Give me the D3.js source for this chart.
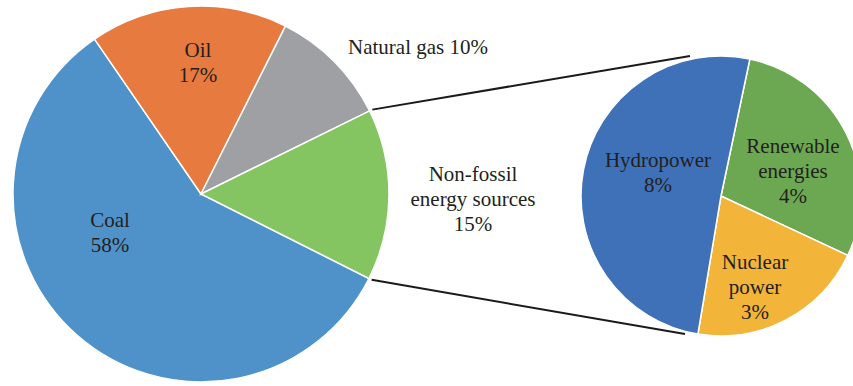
<!DOCTYPE html>
<html>
<head>
<meta charset="utf-8">
<script src="https://cdn.jsdelivr.net/npm/d3@7"></script>
<style>
  body { margin: 0; background: #fff; }
  text { font-family: "Liberation Serif", "Times New Roman", serif; font-size: 21px; fill: #231f20; }
</style>
</head>
<body>
<svg id="chart" width="853" height="386"></svg>
<script>
// main pie: share of primary energy (%)
const mainCats = ["Coal", "Oil", "Natural gas", "Non-fossil energy sources"];
const mainValues = [58, 17, 10.3, 14.7];
const mainLabels = ["58%", "17%", "10%", "15%"];
const mainColors = ["#4f92c9", "#e67a3f", "#9ea0a3", "#84c562"];

// sub pie: breakdown of non-fossil
const subCats = ["Renewable energies", "Nuclear power", "Hydropower"];
const subValues = [4.3, 3.1, 7.6];
const subLabels = ["4%", "3%", "8%"];
const subColors = ["#6ca851", "#f3b43a", "#3f71b8"];

const svg = d3.select("#chart");
const deg = Math.PI / 180;

// main pie geometry
const cx1 = 201, cy1 = 194, r1 = 188;
const start1 = 116.7 * deg;
const pie1 = d3.pie().sort(null).value(d => d)
  .startAngle(start1).endAngle(start1 + 2 * Math.PI);
const arcs1 = pie1(mainValues);
const arc1 = d3.arc().innerRadius(0).outerRadius(r1);

const g1 = svg.append("g").attr("transform", `translate(${cx1},${cy1})`);
g1.selectAll("path")
  .data(arcs1)
  .join("path")
  .attr("d", arc1)
  .attr("fill", (d, i) => mainColors[i])
  .attr("stroke", "#fff")
  .attr("stroke-width", 1.5);

// sub pie geometry
const cx2 = 721, cy2 = 196, r2 = 140;
const start2 = 11.9 * deg;
const pie2 = d3.pie().sort(null).value(d => d)
  .startAngle(start2).endAngle(start2 + 2 * Math.PI);
const arcs2 = pie2(subValues);
const arc2 = d3.arc().innerRadius(0).outerRadius(r2);

const g2 = svg.append("g").attr("transform", `translate(${cx2},${cy2})`);
g2.selectAll("path")
  .data(arcs2)
  .join("path")
  .attr("d", arc2)
  .attr("fill", (d, i) => subColors[i])
  .attr("stroke", "#fff")
  .attr("stroke-width", 1.5);

// connector lines from the non-fossil slice to the sub pie
const nf = arcs1[3];
const polar = (a, r) => [Math.sin(a) * r, -Math.cos(a) * r];
const pTop = polar(nf.startAngle, r1 + 3);
const pBot = polar(nf.endAngle, r1 + 3);
const connectors = [
  [[cx1 + pTop[0], cy1 + pTop[1]], [cx2 - 31, cy2 - r2]],
  [[cx1 + pBot[0], cy1 + pBot[1]], [cx2 - 36, cy2 + r2 - 2]]
];
svg.selectAll("line.conn")
  .data(connectors)
  .join("line")
  .attr("class", "conn")
  .attr("x1", d => d[0][0]).attr("y1", d => d[0][1])
  .attr("x2", d => d[1][0]).attr("y2", d => d[1][1])
  .attr("stroke", "#1a1a1a")
  .attr("stroke-width", 2);

// labels: [lines, x, first baseline]
const lh = 25;
const labels = [
  [["Coal", mainLabels[0]], 110, 227],
  [["Oil", mainLabels[1]], 198, 57],
  [["Natural gas " + mainLabels[2]], 418, 54],
  [["Non-fossil", "energy sources", mainLabels[3]], 473, 181],
  [["Renewable", "energies", subLabels[0]], 793, 153],
  [["Nuclear", "power", subLabels[1]], 755, 269],
  [["Hydropower", subLabels[2]], 658, 167]
];
labels.forEach(([lines, x, y]) => {
  const t = svg.append("text").attr("text-anchor", "middle");
  lines.forEach((s, i) => {
    t.append("tspan").attr("x", x).attr("y", y + i * lh).text(s);
  });
});
</script>
</body>
</html>
